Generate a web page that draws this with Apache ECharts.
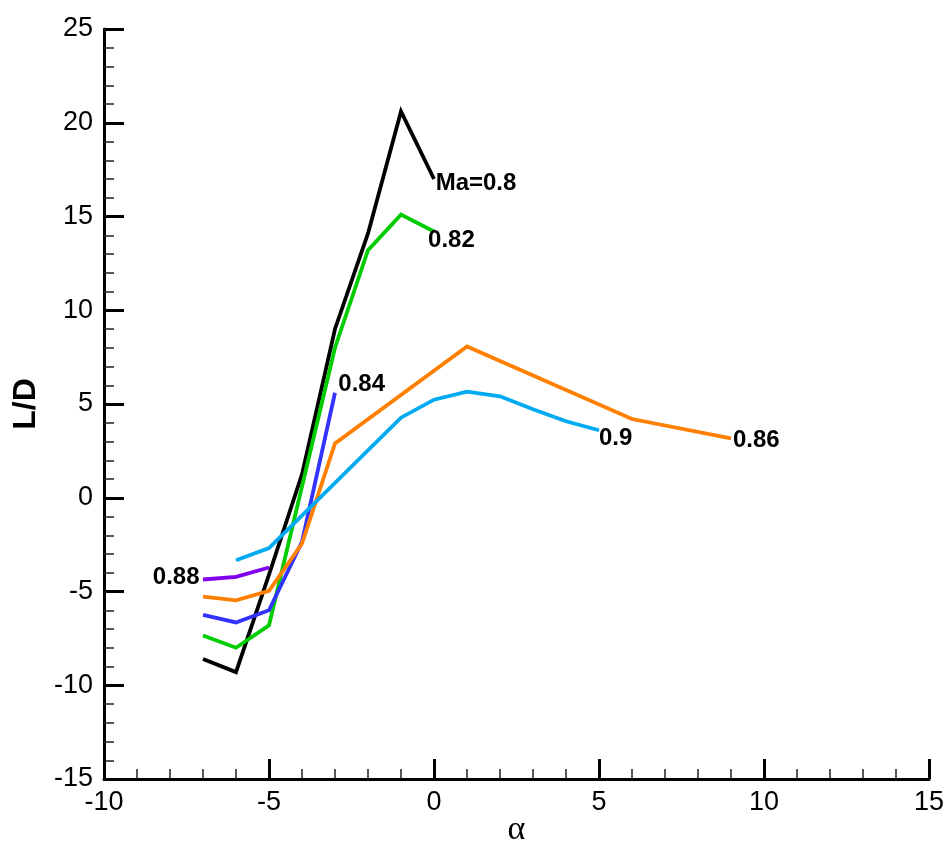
<!DOCTYPE html>
<html>
<head>
<meta charset="utf-8">
<script src="https://cdn.jsdelivr.net/npm/echarts@6/dist/echarts.min.js"></script>
<style>
  html, body { margin: 0; padding: 0; background: #fff; }
  #chart { width: 945px; height: 844px; }
</style>
</head>
<body>
<div id="chart"></div>
<script>
// angle of attack for each Mach number, and L/D
var alpha080 = [-7, -6, -5, -4, -3, -2, -1, 0];
var ld080 = [-8.6, -9.3, -4.1, 1.25, 9.0, 14.1, 20.6, 17.0];

var alpha082 = [-7, -6, -5, -4, -3, -2, -1, 0];
var ld082 = [-7.35, -8.0, -6.8, 0.6, 8.0, 13.2, 15.1, 14.2];

var alpha084 = [-7, -6, -5, -4, -3];
var ld084 = [-6.25, -6.65, -6.0, -2.35, 5.6];

var alpha086 = [-7, -6, -5, -4, -3, 1, 6, 9];
var ld086 = [-5.27, -5.47, -4.97, -2.45, 2.9, 8.07, 4.2, 3.17];

var alpha088 = [-7, -6, -5];
var ld088 = [-4.36, -4.22, -3.72];

var alpha090 = [-6, -5, -1, 0, 1, 2, 3, 4, 5];
var ld090 = [-3.33, -2.68, 4.27, 5.23, 5.66, 5.41, 4.72, 4.08, 3.6];

// curve labels: text and where its left/middle sits (data coords)
var labelText = ['Ma=0.8', '0.82', '0.84', '0.86', '0.88', '0.9'];
var labelX = [0.05, -0.18, -2.9, 9.06, -8.52, 5.0];
var labelY = [16.75, 13.73, 6.06, 3.07, -4.22, 3.18];

var xTicks = { min: -10, max: 15, step: 5 };
var yTicks = { min: -15, max: 25, step: 5 };

function pairs(xs, ys) {
    return xs.map(function(x, i) { return [x, ys[i]]; });
}

var font = 'Liberation Sans, Arial, sans-serif';

function lineSeries(name, xs, ys, color) {
    return {
        name: name,
        type: 'line',
        data: pairs(xs, ys),
        symbol: 'none',
        lineStyle: { color: color, width: 3.8, join: 'miter' },
        z: 3
    };
}

var myChart = echarts.init(document.getElementById('chart'));
var option = {
    animation: false,
    backgroundColor: '#fff',
    grid: {
        left: 104,
        right: 16,
        top: 29,
        bottom: 65,
        outerBoundsMode: 'none'
    },
    xAxis: {
        type: 'value',
        min: xTicks.min,
        max: xTicks.max,
        interval: xTicks.step,
        name: 'α',
        nameLocation: 'middle',
        nameGap: 34,
        nameMoveOverlap: false,
        nameTextStyle: { fontFamily: 'Liberation Serif, Times New Roman, serif', fontSize: 34, color: '#000' },
        axisLine: { onZero: false, lineStyle: { color: '#000', width: 3 } },
        axisTick: { inside: true, length: 20, lineStyle: { color: '#000', width: 3 } },
        minorTick: { show: true, splitNumber: 5, length: 10, lineStyle: { color: '#222', width: 1.5 } },
        splitLine: { show: false },
        axisLabel: { fontFamily: font, fontSize: 27, color: '#000', margin: 10 }
    },
    yAxis: {
        type: 'value',
        min: yTicks.min,
        max: yTicks.max,
        interval: yTicks.step,
        name: 'L/D',
        nameLocation: 'middle',
        nameRotate: 90,
        nameGap: 62,
        nameTextStyle: { fontFamily: font, fontSize: 32, fontWeight: 'bold', color: '#000' },
        axisLine: { onZero: false, lineStyle: { color: '#000', width: 3 } },
        axisTick: { inside: true, length: 20, lineStyle: { color: '#000', width: 3 } },
        minorTick: { show: true, splitNumber: 5, length: 10, lineStyle: { color: '#222', width: 1.5 } },
        splitLine: { show: false },
        axisLabel: { fontFamily: font, fontSize: 27, color: '#000', margin: 11 }
    },
    series: [
        lineSeries('0.8', alpha080, ld080, '#000000'),
        lineSeries('0.82', alpha082, ld082, '#00cc00'),
        lineSeries('0.84', alpha084, ld084, '#3333ff'),
        lineSeries('0.86', alpha086, ld086, '#ff8000'),
        lineSeries('0.88', alpha088, ld088, '#8000ee'),
        lineSeries('0.9', alpha090, ld090, '#00aaf0'),
        {
            name: 'labels',
            type: 'scatter',
            symbolSize: 0,
            z: 5,
            data: labelText.map(function(t, i) {
                return { name: t, value: [labelX[i], labelY[i]] };
            }),
            label: {
                show: true,
                position: 'right',
                distance: 0,
                formatter: '{b}',
                fontFamily: font,
                fontSize: 24,
                fontWeight: 'bold',
                color: '#000',
                opacity: 1,
                textBorderWidth: 0
            },
            itemStyle: { opacity: 1 }
        }
    ]
};
myChart.setOption(option);
</script>
</body>
</html>
